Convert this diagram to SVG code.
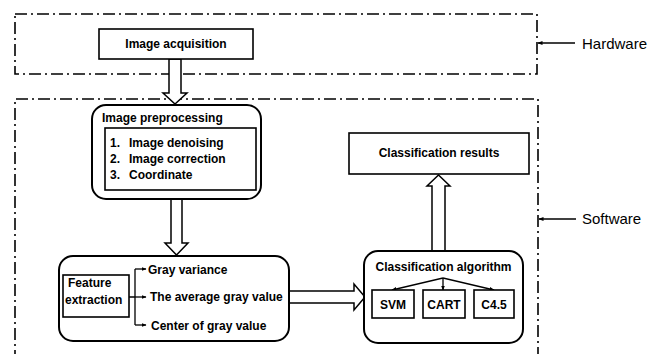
<svg xmlns="http://www.w3.org/2000/svg" width="658" height="354" viewBox="0 0 658 354">
  <style>
    .zone { fill: none; stroke: #000; stroke-width: 1.6; stroke-dasharray: 12 4 2 4; }
    .box { fill: #fff; stroke: #000; stroke-width: 1.6; }
    .rbox { fill: #fff; stroke: #000; stroke-width: 2; }
    .big { fill: #fff; stroke: #000; stroke-width: 1.5; stroke-linejoin: miter; }
    .lead { fill: none; stroke: #000; stroke-width: 1.3; }
    .b { font-family: "Liberation Sans", Arial, sans-serif; font-weight: bold; font-size: 12px; fill: #000; }
    .r { font-family: "Liberation Sans", Arial, sans-serif; font-size: 15px; fill: #000; }
  </style>
  <defs>
    <marker id="tip" viewBox="0 0 10 10" refX="9" refY="5" markerWidth="5" markerHeight="5" orient="auto" markerUnits="userSpaceOnUse">
      <path d="M0,1 L10,5 L0,9 Z" fill="#000"/>
    </marker>
  </defs>

  <!-- dash-dot zones -->
  <g id="zones">
    <rect class="zone" x="15" y="14" width="522" height="60"/>
    <path class="zone" d="M15,362 L15,99 L538,99 L538,362"/>
  </g>

  <!-- zone labels -->
  <g id="label-hardware">
    <line class="lead" x1="575" y1="43" x2="538" y2="43" marker-end="url(#tip)"/>
    <text class="r" x="582" y="49">Hardware</text>
  </g>
  <g id="label-software">
    <line class="lead" x1="576" y1="219" x2="539" y2="219" marker-end="url(#tip)"/>
    <text class="r" x="582" y="224">Software</text>
  </g>

  <!-- connectors -->
  <g id="connectors">
    <polygon class="big" points="169,59 181,59 181,93 187,93 175,104 163,93 169,93"/>
    <polygon class="big" points="171,199 182,199 182,243 188,243 176.5,255 165,243 171,243"/>
    <polygon class="big" points="289,291 354,291 354,284 365,297 354,310 354,303 289,303"/>
    <polygon class="big" points="432,251 445,251 445,186 450,186 438.5,175 427,186 432,186"/>
  </g>

  <g id="image-acquisition">
    <rect class="box" x="99" y="29" width="154" height="30"/>
    <text class="b" x="176" y="48" text-anchor="middle">Image acquisition</text>
  </g>

  <g id="image-preprocessing">
    <rect class="rbox" x="92" y="105" width="169" height="94" rx="14"/>
    <text class="b" x="102" y="122">Image preprocessing</text>
    <rect class="box" x="105" y="128" width="151" height="62"/>
    <text class="b" x="110" y="147">1.</text>
    <text class="b" x="129" y="147">Image denoising</text>
    <text class="b" x="110" y="163">2.</text>
    <text class="b" x="129" y="163">Image correction</text>
    <text class="b" x="110" y="179">3.</text>
    <text class="b" x="129" y="179">Coordinate</text>
  </g>

  <g id="feature-extraction">
    <rect class="rbox" x="59" y="256" width="230" height="85" rx="14"/>
    <rect class="box" x="63" y="275" width="66" height="42"/>
    <text class="b" x="68" y="287">Feature</text>
    <text class="b" x="65" y="304">extraction</text>
    <path class="lead" d="M129,297 L135,297 M135,269 L135,325"/>
    <line class="lead" x1="135" y1="269" x2="146" y2="269" marker-end="url(#tip)"/>
    <line class="lead" x1="135" y1="297" x2="146" y2="297" marker-end="url(#tip)"/>
    <line class="lead" x1="135" y1="325" x2="146" y2="325" marker-end="url(#tip)"/>
    <text class="b" x="148" y="274">Gray variance</text>
    <text class="b" x="150" y="301">The average gray value</text>
    <text class="b" x="151" y="330">Center of gray value</text>
  </g>

  <g id="classification-algorithm">
    <rect class="rbox" x="364" y="251" width="159" height="92" rx="14"/>
    <text class="b" x="443.5" y="271" text-anchor="middle">Classification algorithm</text>
    <line class="lead" x1="443" y1="278" x2="392" y2="290" marker-end="url(#tip)"/>
    <line class="lead" x1="443" y1="278" x2="443" y2="290" marker-end="url(#tip)"/>
    <line class="lead" x1="443" y1="278" x2="494" y2="290" marker-end="url(#tip)"/>
    <rect class="box" x="372" y="290" width="42" height="28"/>
    <text class="b" x="393" y="309" text-anchor="middle">SVM</text>
    <rect class="box" x="423" y="290" width="42" height="28"/>
    <text class="b" x="444" y="309" text-anchor="middle">CART</text>
    <rect class="box" x="474" y="290" width="40" height="28"/>
    <text class="b" x="494" y="309" text-anchor="middle">C4.5</text>
  </g>

  <g id="classification-results">
    <rect class="box" x="349" y="133" width="180" height="41"/>
    <text class="b" x="439" y="157" text-anchor="middle">Classification results</text>
  </g>
</svg>
